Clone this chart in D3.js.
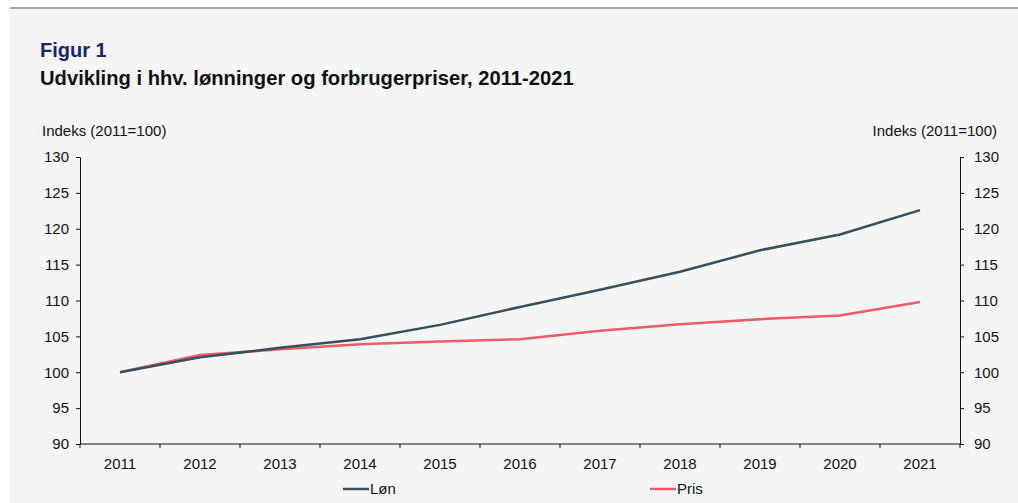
<!DOCTYPE html>
<html>
<head>
<meta charset="utf-8">
<script src="https://cdn.jsdelivr.net/npm/d3@7"></script>
<style>
  body { margin: 0; background: #fff; font-family: "Liberation Sans", Arial, sans-serif; }
  svg text { font-family: "Liberation Sans", Arial, sans-serif; fill: #111; }
</style>
</head>
<body>
<script>
var years = [2011,2012,2013,2014,2015,2016,2017,2018,2019,2020,2021];
var lon  = [100, 102.1, 103.4, 104.6, 106.6, 109.1, 111.5, 114.0, 117.0, 119.2, 122.6];
var pris = [100, 102.4, 103.2, 103.9, 104.3, 104.6, 105.8, 106.7, 107.4, 107.9, 109.8];
var yTicks = [90,95,100,105,110,115,120,125,130];
var seriesNames = ["Løn","Pris"];
var colors = ["#37505f","#ef5b66"];

var WIDTH = 1018, HEIGHT = 503;
var LEFT = 80, RIGHT = 960, TOP = 157, BOTTOM = 444;
var LABEL = "15px";

var translate = function (x,y) {
  return "translate("+x+","+y+")";
}

var svg = d3.select("body").append("svg")
    .attr("width", WIDTH)
    .attr("height", HEIGHT);

// panel
svg.append("rect").attr("x", 10).attr("y", 9).attr("width", WIDTH-10).attr("height", HEIGHT-9)
    .attr("fill", "#f5f5f5");
svg.append("line").attr("x1", 10).attr("x2", WIDTH).attr("y1", 8).attr("y2", 8)
    .attr("stroke", "#a8a8a8").attr("stroke-width", 2);

svg.append("text").attr("x", 40).attr("y", 57).text("Figur 1")
    .style("font-size", "20px").style("font-weight", "bold").style("fill", "#13296b");
svg.append("text").attr("x", 40).attr("y", 85).text("Udvikling i hhv. lønninger og forbrugerpriser, 2011-2021")
    .style("font-size", "20.2px").style("font-weight", "bold");

svg.append("text").attr("x", 42).attr("y", 136).text("Indeks (2011=100)").style("font-size", LABEL);
svg.append("text").attr("x", 997).attr("y", 136).attr("text-anchor", "end").text("Indeks (2011=100)").style("font-size", LABEL);

var xBand = d3.scaleBand().domain(years).range([LEFT, RIGHT]);
var yScale = d3.scaleLinear().domain([90,130]).range([BOTTOM, TOP]);

var styleAxis = function (g) {
  g.selectAll("path").attr("stroke", "#111");
  g.selectAll("line").attr("stroke", "#111");
  g.selectAll("text").style("font-size", LABEL).style("fill", "#111");
}

var yLeft = svg.append("g").attr("transform", translate(LEFT, 0))
    .call(d3.axisLeft(yScale).tickValues(yTicks).tickSizeInner(4).tickSizeOuter(0).tickPadding(7));
styleAxis(yLeft);

var yRight = svg.append("g").attr("transform", translate(RIGHT, 0))
    .call(d3.axisRight(yScale).tickValues(yTicks).tickSizeInner(4).tickSizeOuter(0).tickPadding(10));
styleAxis(yRight);

// x axis with ticks on band edges
var xAxisG = svg.append("g").attr("transform", translate(0, BOTTOM));
xAxisG.append("line").attr("x1", LEFT).attr("x2", RIGHT).attr("stroke", "#111");
xAxisG.selectAll(".edge").data(years.concat(["end"])).enter().append("line")
    .attr("x1", function (d,i) { return LEFT + i*xBand.step(); })
    .attr("x2", function (d,i) { return LEFT + i*xBand.step(); })
    .attr("y1", 0).attr("y2", 4).attr("stroke", "#111");
xAxisG.selectAll(".lab").data(years).enter().append("text")
    .attr("x", function (d) { return xBand(d) + xBand.bandwidth()/2; })
    .attr("y", 25).attr("text-anchor", "middle").style("font-size", LABEL)
    .text(function (d) { return d; });

var line = d3.line()
    .x(function (d,i) { return xBand(years[i]) + xBand.bandwidth()/2; })
    .y(function (d) { return yScale(d); });

[pris, lon].forEach(function (s, k) {
  svg.append("path").attr("d", line(s)).attr("fill", "none")
      .attr("stroke", k === 0 ? colors[1] : colors[0]).attr("stroke-width", 2.5);
});

// legend
var legendX = [343, 650];
seriesNames.forEach(function (n, i) {
  var g = svg.append("g").attr("transform", translate(legendX[i], 489));
  g.append("line").attr("x1", 0).attr("x2", 26).attr("stroke", colors[i]).attr("stroke-width", 2.5);
  g.append("text").attr("x", 27).attr("y", 5).style("font-size", LABEL).text(n);
});
</script>
</body>
</html>
